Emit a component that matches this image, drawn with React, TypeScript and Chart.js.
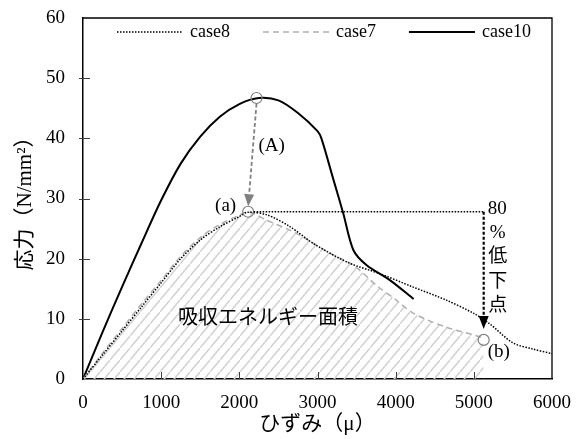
import React, { useEffect, useRef } from 'react';
import { Chart, registerables } from 'chart.js';
Chart.register(...registerables);

// ---- data (strain μ, stress N/mm²) ----
const case8Strain = [0, 250, 500, 750, 1000, 1250, 1500, 1750, 2000, 2100, 2350, 2650, 2950, 3400, 3800, 4200, 4650, 5000, 5200, 5500, 5750, 6000];
const case8Stress = [0, 4.0, 8.0, 12.0, 16.0, 20.0, 23.1, 25.3, 27.0, 27.7, 27.3, 25.3, 22.5, 19.3, 17.5, 15.4, 13.1, 10.9, 9.2, 6.0, 5.0, 4.2];

const case7Strain = [0, 250, 500, 750, 1000, 1250, 1500, 1750, 2000, 2113, 2350, 2730, 3160, 3460, 3760, 4000, 4230, 4650, 5080, 5126];
const case7Stress = [0, 4.3, 8.4, 12.5, 16.4, 20.4, 23.5, 25.7, 27.2, 27.8, 26.4, 24.2, 20.9, 18.9, 15.5, 13.2, 10.9, 8.6, 7.0, 6.5];

const case10Strain = [0, 250, 500, 750, 1000, 1250, 1500, 1750, 2000, 2250, 2500, 2750, 3000, 3050, 3200, 3330, 3460, 3630, 3930, 4230];
const case10Stress = [0, 7.8, 15.3, 22.6, 29.7, 35.8, 40.3, 43.6, 45.7, 46.7, 46.3, 44.2, 41.2, 40.0, 33.3, 27.5, 21.4, 18.9, 16.4, 13.3];

// key points: (A) peak of case10, (a) peak of case7, (b) 80% drop point of case7
const markerStrain = [2220, 2113, 5126];
const markerStress = [46.7, 27.8, 6.5];

const xTicks = [0, 1000, 2000, 3000, 4000, 5000, 6000];
const yTicks = [0, 10, 20, 30, 40, 50, 60];

const seriesLabels = ['case8', 'case7', 'case10'];
const areaLabel = '吸収エネルギー面積';
const dropLabel = ['%', '低', '下', '点'];
const xTitle = 'ひずみ（μ）';
const yTitle = '応力（N/mm²）';

const FONT = "'Liberation Serif', 'Noto Sans CJK JP', serif";

const toXY = (xs: number[], ys: number[]) => xs.map((x, i) => ({ x, y: ys[i] }));

function makeHatch(): CanvasPattern | string {
  const pc = document.createElement('canvas');
  const w = 10, h = 12;
  pc.width = w; pc.height = h;
  const p = pc.getContext('2d');
  if (!p) return 'rgba(200,200,200,0.5)';
  p.strokeStyle = '#d2d2d2';
  p.lineWidth = 1.5;
  p.beginPath();
  p.moveTo(-1, h + 1.2);
  p.lineTo(w + 1, -1.2);
  p.stroke();
  const pat = p.createPattern(pc, 'repeat');
  return pat || 'rgba(200,200,200,0.5)';
}

function arrow(ctx: CanvasRenderingContext2D, x1: number, y1: number, x2: number, y2: number,
  color: string, width: number, dash: number[], headLen: number, headW: number) {
  const ang = Math.atan2(y2 - y1, x2 - x1);
  const bx = x2 - headLen * Math.cos(ang);
  const by = y2 - headLen * Math.sin(ang);
  ctx.save();
  ctx.strokeStyle = color;
  ctx.lineWidth = width;
  ctx.setLineDash(dash);
  ctx.beginPath();
  ctx.moveTo(x1, y1);
  ctx.lineTo(bx, by);
  ctx.stroke();
  ctx.setLineDash([]);
  ctx.fillStyle = color;
  ctx.beginPath();
  ctx.moveTo(x2, y2);
  ctx.lineTo(bx + (headW / 2) * Math.sin(ang), by - (headW / 2) * Math.cos(ang));
  ctx.lineTo(bx - (headW / 2) * Math.sin(ang), by + (headW / 2) * Math.cos(ang));
  ctx.closePath();
  ctx.fill();
  ctx.restore();
}

const annotPlugin = {
  id: 'annot',
  afterDatasetsDraw(chart: any) {
    const ctx: CanvasRenderingContext2D = chart.ctx;
    const xs = chart.scales.x, ys = chart.scales.y;
    const R = 5.5;
    const ax = xs.getPixelForValue(markerStrain[0]), ay = ys.getPixelForValue(markerStress[0]);
    const px = xs.getPixelForValue(markerStrain[1]), py = ys.getPixelForValue(markerStress[1]);
    const bx = xs.getPixelForValue(markerStrain[2]), by = ys.getPixelForValue(markerStress[2]);
    // (A) -> (a)
    arrow(ctx, ax, ay + R, px, py - R, '#808080', 1.8, [4, 2.5], 12, 10);
    // horizontal 80% reference line
    ctx.save();
    ctx.strokeStyle = '#000';
    ctx.lineWidth = 1.3;
    ctx.setLineDash([1.5, 1.5]);
    ctx.beginPath();
    ctx.moveTo(px + R, py);
    ctx.lineTo(bx, py);
    ctx.stroke();
    ctx.restore();
    // vertical drop arrow
    arrow(ctx, bx, py, bx, by - 11, '#000', 2.2, [3, 2], 13, 10);
  },
  afterDraw(chart: any) {
    const ctx: CanvasRenderingContext2D = chart.ctx;
    const { left, right, top, bottom } = chart.chartArea;
    const xs = chart.scales.x, ys = chart.scales.y;
    ctx.save();
    // frame
    ctx.strokeStyle = '#000';
    ctx.lineWidth = 1.3;
    ctx.setLineDash([]);
    ctx.beginPath();
    ctx.moveTo(left, top);
    ctx.lineTo(right, top);
    ctx.lineTo(right, bottom);
    ctx.stroke();
    // tick marks
    ctx.strokeStyle = '#404040';
    ctx.lineWidth = 1;
    yTicks.slice(1, -1).forEach((v) => {
      const y = Math.round(ys.getPixelForValue(v)) + 0.5;
      ctx.beginPath();
      ctx.moveTo(left - 4, y);
      ctx.lineTo(left + 7, y);
      ctx.stroke();
    });
    xTicks.slice(1, -1).forEach((v) => {
      const x = Math.round(xs.getPixelForValue(v)) + 0.5;
      ctx.beginPath();
      ctx.moveTo(x, bottom);
      ctx.lineTo(x, bottom - 7);
      ctx.stroke();
    });
    // legend
    ctx.font = `18px ${FONT}`;
    ctx.textBaseline = 'middle';
    ctx.textAlign = 'left';
    ctx.fillStyle = '#000';
    let cx = left + 34;
    const ly = top + 14;
    chart.data.datasets.slice(0, 3).forEach((ds: any) => {
      ctx.save();
      ctx.strokeStyle = ds.borderColor;
      ctx.lineWidth = ds.borderWidth;
      ctx.setLineDash(ds.borderDash || []);
      ctx.beginPath();
      ctx.moveTo(cx, ly);
      ctx.lineTo(cx + 66, ly);
      ctx.stroke();
      ctx.restore();
      ctx.fillText(ds.label, cx + 73, ly);
      cx += 73 + ctx.measureText(ds.label).width + 33;
    });
    // annotation texts
    const ax = xs.getPixelForValue(markerStrain[0]), ay = ys.getPixelForValue(markerStress[0]);
    const px = xs.getPixelForValue(markerStrain[1]), py = ys.getPixelForValue(markerStress[1]);
    const bx = xs.getPixelForValue(markerStrain[2]), by = ys.getPixelForValue(markerStress[2]);
    ctx.font = `19px ${FONT}`;
    ctx.textAlign = 'left';
    ctx.fillText('(A)', ax + 2, ay + 48);
    ctx.textAlign = 'right';
    ctx.fillText('(a)', px - 12, py - 6);
    ctx.textAlign = 'left';
    ctx.fillText('80', bx + 4, py - 3);
    ctx.fillText('(b)', bx + 4, by + 12);
    ctx.textAlign = 'center';
    dropLabel.forEach((s, i) => {
      ctx.fillText(s, bx + 14, py + 21 + i * 24.5);
    });
    ctx.font = `20px ${FONT}`;
    ctx.textAlign = 'left';
    ctx.fillText(areaLabel, xs.getPixelForValue(1215), ys.getPixelForValue(10));
    ctx.restore();
  },
};

const zeroPad = (s: any) => { s.paddingTop = 0; s.paddingBottom = 0; s.paddingLeft = 0; s.paddingRight = 0; };

export default function App() {
  const ref = useRef<HTMLCanvasElement>(null);
  useEffect(() => {
    if (!ref.current) return;
    Chart.defaults.font.family = FONT;
    const hatch = makeHatch();
    const chart = new Chart(ref.current, {
      type: 'line',
      data: {
        datasets: [
          {
            label: seriesLabels[0],
            data: toXY(case8Strain, case8Stress),
            borderColor: '#000',
            borderWidth: 1.5,
            borderDash: [1.5, 1.5],
            pointRadius: 0,
            fill: false,
            tension: 0.3,
          },
          {
            label: seriesLabels[1],
            data: toXY(case7Strain, case7Stress),
            borderColor: '#b0b0b0',
            borderWidth: 1.5,
            borderDash: [6, 4],
            pointRadius: 0,
            fill: 'origin',
            backgroundColor: hatch as any,
            tension: 0.3,
          },
          {
            label: seriesLabels[2],
            data: toXY(case10Strain, case10Stress),
            borderColor: '#000',
            borderWidth: 2,
            pointRadius: 0,
            fill: false,
            tension: 0.3,
          },
          {
            label: 'points',
            type: 'scatter',
            data: toXY(markerStrain, markerStress),
            pointRadius: 5.5,
            pointBorderColor: '#808080',
            pointBackgroundColor: 'rgba(0,0,0,0)',
            pointBorderWidth: 1.2,
            showLine: false,
            order: -1,
          } as any,
        ],
      },
      options: {
        animation: false,
        responsive: false,
        events: [],
        layout: { padding: { top: 18, right: 31, left: 0, bottom: 0 } },
        plugins: { legend: { display: false }, tooltip: { enabled: false } },
        scales: {
          x: {
            type: 'linear',
            min: 0,
            max: 6000,
            afterBuildTicks: (s: any) => { s.ticks = xTicks.map((v) => ({ value: v })); },
            afterFit: (s: any) => { s.height = 60; zeroPad(s); },
            ticks: { color: '#000', font: { size: 19, family: FONT }, padding: 13, maxRotation: 0, callback: (v: any) => String(v) },
            grid: { display: false, drawTicks: false },
            border: { display: true, color: '#000', width: 1.5 },
            title: { display: true, text: xTitle, color: '#000', font: { size: 21, family: FONT }, padding: { top: 0, bottom: 2 } },
          },
          y: {
            type: 'linear',
            min: 0,
            max: 60,
            afterBuildTicks: (s: any) => { s.ticks = yTicks.map((v) => ({ value: v })); },
            afterFit: (s: any) => { s.width = 83; zeroPad(s); },
            ticks: { color: '#000', font: { size: 19, family: FONT }, padding: 18, callback: (v: any) => String(v) },
            grid: { display: false, drawTicks: false },
            border: { display: true, color: '#000', width: 1.5 },
            title: { display: true, text: yTitle, color: '#000', font: { size: 21, family: FONT }, padding: { top: 13, bottom: 0 } },
          },
        },
      } as any,
      plugins: [annotPlugin],
    });
    return () => chart.destroy();
  }, []);
  return (
    <div style={{ position: 'fixed', left: 0, top: 0, width: 583, height: 439, background: '#fff' }}>
      <canvas ref={ref} width={583} height={439} style={{ display: 'block', width: 583, height: 439 }} />
    </div>
  );
}
